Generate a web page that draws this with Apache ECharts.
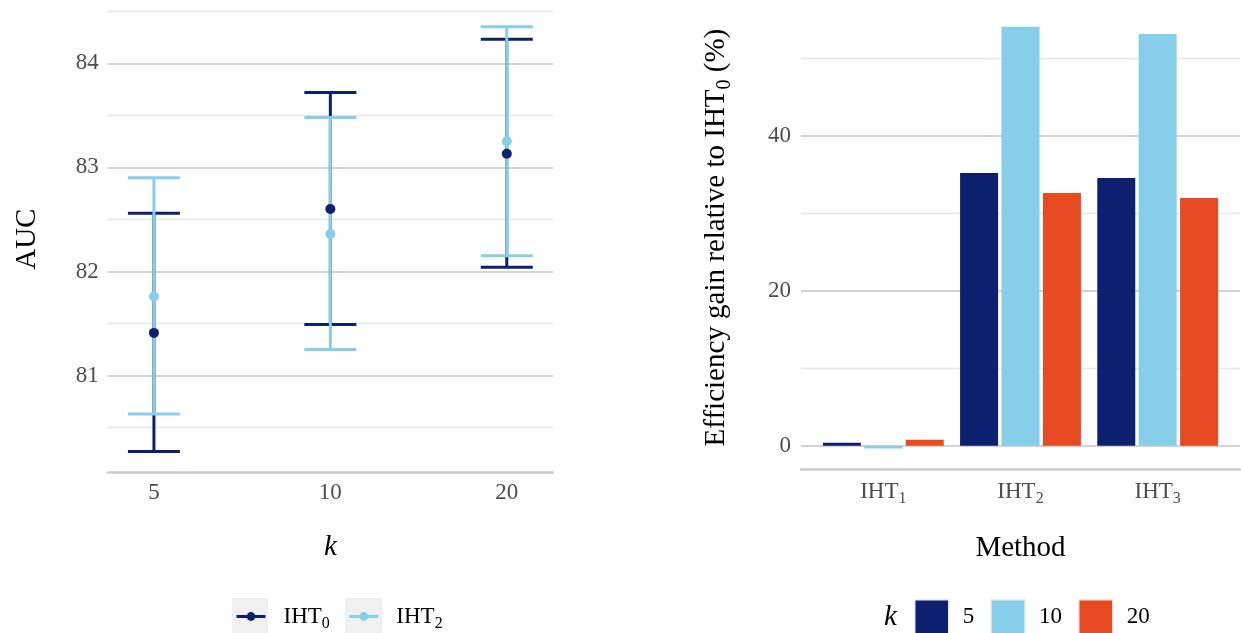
<!DOCTYPE html>
<html>
<head>
<meta charset="utf-8">
<script src="https://cdn.jsdelivr.net/npm/echarts@6/dist/echarts.min.js"></script>
<style>
html,body{margin:0;padding:0;background:#fff;}
#c{width:1241px;height:633px;}
</style>
</head>
<body>
<div id="c"></div>
<script>
// ---- Left panel data (AUC by k) ----
const kCats = ['5', '10', '20'];
const iht0Mean = [81.41, 82.60, 83.13];
const iht0Low  = [80.27, 81.49, 82.04];
const iht0High = [82.56, 83.72, 84.23];
const iht2Mean = [81.76, 82.36, 83.25];
const iht2Low  = [80.63, 81.25, 82.15];
const iht2High = [82.90, 83.48, 84.35];
const aucTicks = [81, 82, 83, 84];

// ---- Right panel data (efficiency gain) ----
const methodBase = 'IHT';
const methodSubs = ['1', '2', '3'];
const kLevels = ['5', '10', '20'];
const gainK5  = [0.39, 35.19, 34.53];
const gainK10 = [-0.35, 54.05, 53.12];
const gainK20 = [0.77, 32.60, 31.96];
const gainTicks = [0, 20, 40];

const FONT = 'Liberation Serif';
const DARK = '#0c206f';
const LIGHT = '#87ceeb';
const RED = '#e84a22';
const MAJOR = '#d3d3d3';
const MINOR = '#e6e6e6';
const TICK_FS = 23;
const TITLE_FS = 29;

const chart = echarts.init(document.getElementById('c'), null, {renderer: 'canvas'});

function errorBar(color) {
  return function (params, api) {
    const x = api.value(0), lo = api.value(1), hi = api.value(2);
    const pLo = api.coord([x, lo]);
    const pHi = api.coord([x, hi]);
    const hw = 26;
    const style = {stroke: color, lineWidth: 3, fill: null};
    return {
      type: 'group',
      children: [
        {type: 'line', shape: {x1: pLo[0], y1: pLo[1], x2: pHi[0], y2: pHi[1]}, style: style},
        {type: 'line', shape: {x1: pLo[0] - hw, y1: pLo[1], x2: pLo[0] + hw, y2: pLo[1]}, style: style},
        {type: 'line', shape: {x1: pHi[0] - hw, y1: pHi[1], x2: pHi[0] + hw, y2: pHi[1]}, style: style}
      ]
    };
  };
}

const subRich = {
  m: {fontFamily: FONT, fontSize: TICK_FS, color: '#4d4d4d'},
  s: {fontFamily: FONT, fontSize: 16, color: '#4d4d4d', padding: [14, 0, 0, 0]}
};
const subRichBlack = {
  m: {fontFamily: FONT, fontSize: TICK_FS, color: '#000'},
  s: {fontFamily: FONT, fontSize: 16, color: '#000', padding: [14, 0, 0, 0]}
};

const leftY = {min: 80.07, max: 84.55};
const rightY = {min: -3.07, max: 56.78};

const option = {
  animation: false,
  backgroundColor: '#fff',
  textStyle: {fontFamily: FONT},
  grid: [
    {left: 107.7, right: 688, top: 6.0, bottom: 160.6},
    {left: 801, right: 1, top: 5.65, bottom: 163.5}
  ],
  xAxis: [
    {
      type: 'value', gridIndex: 0, min: -0.262, max: 2.262,
      name: 'k', nameLocation: 'middle', nameGap: 60,
      nameTextStyle: {fontFamily: FONT, fontSize: TITLE_FS, fontStyle: 'italic', color: '#000'},
      axisLine: {show: true, onZero: false, lineStyle: {color: '#cccccc', width: 2.5}},
      axisTick: {show: false},
      splitLine: {show: false},
      axisLabel: {
        customValues: [0, 1, 2],
        formatter: v => kCats[Math.round(v)],
        fontFamily: FONT, fontSize: TICK_FS, color: '#4d4d4d', margin: 9
      }
    },
    {
      type: 'value', gridIndex: 1, min: -0.6, max: 2.6,
      name: 'Method', nameLocation: 'middle', nameGap: 64,
      nameTextStyle: {fontFamily: FONT, fontSize: TITLE_FS, color: '#000'},
      axisLine: {show: true, onZero: false, lineStyle: {color: '#cccccc', width: 2.5}},
      axisTick: {show: false},
      splitLine: {show: false},
      axisLabel: {
        customValues: [0, 1, 2],
        formatter: v => '{m|' + methodBase + '}{s|' + methodSubs[Math.round(v)] + '}',
        rich: subRich, margin: 7
      }
    }
  ],
  yAxis: [
    {
      type: 'value', gridIndex: 0, min: leftY.min, max: leftY.max,
      minInterval: 1, maxInterval: 1,
      name: 'AUC', nameLocation: 'middle', nameGap: 66,
      nameTextStyle: {fontFamily: FONT, fontSize: TITLE_FS, color: '#000'},
      axisLine: {show: false}, axisTick: {show: false},
      axisLabel: {
        showMinLabel: false, showMaxLabel: false,
        formatter: v => (aucTicks.indexOf(Math.round(v * 100) / 100) >= 0 ? String(v) : ''),
        fontFamily: FONT, fontSize: TICK_FS, color: '#4d4d4d', margin: 9
      },
      splitLine: {show: true, showMinLine: false, showMaxLine: false, lineStyle: {color: MAJOR, width: 2}},
      z: 2
    },
    {
      type: 'value', gridIndex: 0, min: leftY.min, max: leftY.max, position: 'left',
      minInterval: 0.5, maxInterval: 0.5,
      axisLine: {show: false}, axisTick: {show: false}, axisLabel: {show: false},
      splitLine: {show: true, showMinLine: false, showMaxLine: false, lineStyle: {color: [MINOR, 'rgba(0,0,0,0)'], width: 1.3}},
      z: 1
    },
    {
      type: 'value', gridIndex: 1, min: rightY.min, max: rightY.max,
      minInterval: 20, maxInterval: 20,
      name: 'Efficiency gain relative to {m|IHT}{s|0} {m|(%)}', nameLocation: 'middle', nameGap: 66,
      nameTextStyle: {
        fontFamily: FONT, fontSize: TITLE_FS, color: '#000',
        rich: {
          m: {fontFamily: FONT, fontSize: TITLE_FS, color: '#000'},
          s: {fontFamily: FONT, fontSize: 20, color: '#000', padding: [18, 0, 0, 0]}
        }
      },
      axisLine: {show: false}, axisTick: {show: false},
      axisLabel: {
        showMinLabel: false, showMaxLabel: false,
        formatter: v => (gainTicks.indexOf(Math.round(v)) >= 0 ? String(Math.round(v)) : ''),
        fontFamily: FONT, fontSize: TICK_FS, color: '#4d4d4d', margin: 10
      },
      splitLine: {show: true, showMinLine: false, showMaxLine: false, lineStyle: {color: MAJOR, width: 2}},
      z: 2
    },
    {
      type: 'value', gridIndex: 1, min: rightY.min, max: rightY.max, position: 'left',
      minInterval: 10, maxInterval: 10,
      axisLine: {show: false}, axisTick: {show: false}, axisLabel: {show: false},
      splitLine: {show: true, showMinLine: false, showMaxLine: false, lineStyle: {color: ['rgba(0,0,0,0)', MINOR], width: 1.3}},
      z: 1
    }
  ],
  legend: [
    {
      data: ['IHT0', 'IHT2'],
      left: 235, top: 605, padding: 0,
      itemWidth: 29, itemHeight: 11, itemGap: 18,
      lineStyle: {width: 3, opacity: 1},
      formatter: n => '{m|IHT}{s|' + n.slice(3) + '}',
      textStyle: {padding: [0, 0, 0, 13], rich: subRichBlack}
    },
    {
      data: kLevels,
      left: 914, top: 599, padding: 0,
      icon: 'rect', itemWidth: 34, itemHeight: 34, itemGap: 16,
      itemStyle: {borderColor: '#ebebeb', borderWidth: 1.5},
      textStyle: {fontFamily: FONT, fontSize: TICK_FS, color: '#000', padding: [0, 0, 0, 9]}
    }
  ],
  title: {
    text: 'k', left: 884, top: 603, padding: 0,
    textStyle: {fontFamily: FONT, fontSize: TITLE_FS, fontStyle: 'italic', fontWeight: 'normal', color: '#000'}
  },
  graphic: [
    {type: 'rect', left: 232, top: 598, shape: {width: 36, height: 35}, style: {fill: '#f0f0f0'}, z: 0},
    {type: 'rect', left: 345, top: 598, shape: {width: 37, height: 35}, style: {fill: '#f0f0f0'}, z: 0}
  ],
  series: [
    {
      name: 'IHT0 CI', type: 'custom', xAxisIndex: 0, yAxisIndex: 0,
      renderItem: errorBar(DARK),
      encode: {x: 0, y: [1, 2]},
      data: kCats.map((c, i) => [i, iht0Low[i], iht0High[i]]),
      z: 2
    },
    {
      name: 'IHT2 CI', type: 'custom', xAxisIndex: 0, yAxisIndex: 0,
      renderItem: errorBar(LIGHT),
      encode: {x: 0, y: [1, 2]},
      data: kCats.map((c, i) => [i, iht2Low[i], iht2High[i]]),
      z: 3
    },
    {
      name: 'IHT0', type: 'line', xAxisIndex: 0, yAxisIndex: 0,
      data: kCats.map((c, i) => [i, iht0Mean[i]]),
      symbol: 'circle', symbolSize: 10,
      itemStyle: {color: DARK},
      lineStyle: {color: DARK, opacity: 0},
      z: 4
    },
    {
      name: 'IHT2', type: 'line', xAxisIndex: 0, yAxisIndex: 0,
      data: kCats.map((c, i) => [i, iht2Mean[i]]),
      symbol: 'circle', symbolSize: 10,
      itemStyle: {color: LIGHT},
      lineStyle: {color: LIGHT, opacity: 0},
      z: 5
    },
    {
      name: '5', type: 'bar', xAxisIndex: 1, yAxisIndex: 2,
      data: methodSubs.map((m, i) => [i, gainK5[i]]),
      barWidth: 38, barGap: '9%',
      itemStyle: {color: DARK}
    },
    {
      name: '10', type: 'bar', xAxisIndex: 1, yAxisIndex: 2,
      data: methodSubs.map((m, i) => [i, gainK10[i]]),
      barWidth: 38, barGap: '9%',
      itemStyle: {color: LIGHT}
    },
    {
      name: '20', type: 'bar', xAxisIndex: 1, yAxisIndex: 2,
      data: methodSubs.map((m, i) => [i, gainK20[i]]),
      barWidth: 38, barGap: '9%',
      itemStyle: {color: RED}
    }
  ]
};
chart.setOption(option);
</script>
</body>
</html>
